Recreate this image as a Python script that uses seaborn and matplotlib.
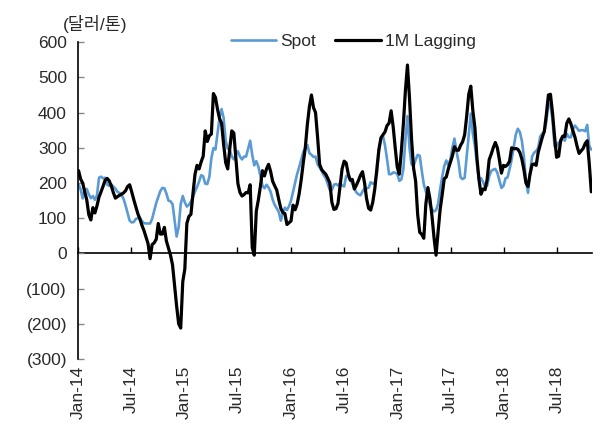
import matplotlib
matplotlib.use("Agg")
import matplotlib.pyplot as plt
import matplotlib.dates as mdates
import pandas as pd
import seaborn as sns

# ---------------- data (weekly) ----------------
start_date = "2014-01-03"

spot = [
    196, 182, 156, 180, 183, 168, 157, 163, 152, 165,
    215, 218, 213, 215, 195, 192, 196, 190, 184, 175,
    172, 167, 155, 136, 114, 93, 88, 89, 98, 100,
    101, 92, 86, 85, 85, 85, 98, 120, 143, 160,
    177, 186, 185, 170, 150, 148, 140, 95, 48, 75,
    140, 163, 145, 133, 138, 147, 160, 176, 189, 204,
    222, 219, 198, 197, 217, 270, 299, 295, 340, 385,
    410, 385, 320, 298, 294, 275, 267, 280, 290, 275,
    267, 275, 275, 297, 320, 280, 250, 262, 247, 220,
    193, 185, 195, 187, 175, 153, 138, 128, 118, 93,
    115, 130, 123, 134, 150, 175, 200, 226, 245, 266,
    288, 298, 308, 285, 280, 274, 275, 253, 244, 234,
    222, 214, 196, 180, 180, 195, 197, 193, 200, 193,
    190, 220, 217, 210, 198, 185, 173, 168, 165, 176,
    185, 184, 187, 202, 198, 201, 225, 290, 324, 334,
    307, 268, 225, 225, 230, 229, 226, 206, 210, 240,
    325, 390, 300, 253, 248, 266, 280, 277, 235, 196,
    176, 162, 138, 125, 119, 123, 141, 182, 217, 248,
    264, 250, 266, 300, 326, 290, 260, 216, 211, 215,
    276, 340, 397, 340, 306, 255, 208, 214, 203, 188,
    192, 219, 234, 238, 240, 229, 208, 186, 192, 213,
    216, 240, 266, 302, 337, 354, 345, 320, 275, 208,
    172, 228, 275, 286, 291, 300, 332, 340, 345, 375,
    426, 420, 380, 304, 305, 315, 315, 330, 320, 340,
    330, 330, 353, 363, 356, 348, 350, 350, 347, 365,
    305, 295,
]

lagging = [
    235, 211, 200, 175, 152, 110, 95, 130, 115, 135,
    160, 175, 191, 208, 213, 206, 192, 173, 157, 161,
    165, 168, 172, 178, 190, 195, 175, 153, 133, 113,
    98, 80, 65, 47, 28, -15, 25, 30, 40, 85,
    55, 55, 74, 35, 15, -5, -33, -90, -150, -200,
    -212, -80, -45, 85, 105, 111, 170, 225, 250, 240,
    260, 276, 348, 318, 334, 339, 454, 443, 410, 383,
    370, 310, 258, 240, 297, 348, 342, 270, 198, 173,
    163, 167, 173, 172, 195, 17, -5, 120, 152, 190,
    235, 220, 240, 253, 233, 205, 192, 180, 153, 128,
    116, 113, 82, 87, 92, 137, 124, 140, 170, 210,
    258, 301, 367, 417, 450, 414, 400, 330, 253, 238,
    231, 225, 213, 200, 145, 125, 127, 142, 190, 240,
    262, 257, 226, 208, 210, 183, 194, 207, 222, 232,
    200, 155, 128, 123, 145, 183, 238, 295, 328, 337,
    345, 363, 370, 405, 360, 300, 245, 225, 290, 368,
    463, 535, 440, 325, 242, 205, 110, 60, 54, 43,
    140, 187, 155, 106, 45, -5, 62, 125, 167, 212,
    217, 240, 258, 277, 303, 293, 293, 307, 317, 337,
    390, 452, 475, 406, 358, 272, 210, 168, 183, 181,
    210, 266, 282, 300, 315, 300, 266, 228, 250, 247,
    252, 262, 300, 297, 298, 296, 287, 268, 238, 200,
    190, 225, 252, 254, 250, 287, 308, 330, 347, 395,
    450, 452, 400, 333, 273, 276, 321, 333, 332, 370,
    382, 368, 348, 330, 305, 284, 291, 298, 312, 320,
    255, 175,
]

tick_dates = ["2014-01-01", "2014-07-01", "2015-01-01", "2015-07-01",
              "2016-01-01", "2016-07-01", "2017-01-01", "2017-07-01",
              "2018-01-01", "2018-07-01"]
tick_labels = ["Jan-14", "Jul-14", "Jan-15", "Jul-15", "Jan-16",
               "Jul-16", "Jan-17", "Jul-17", "Jan-18", "Jul-18"]
y_ticks = [600, 500, 400, 300, 200, 100, 0, -100, -200, -300]
y_labels = ["600", "500", "400", "300", "200", "100", "0",
            "(100)", "(200)", "(300)"]
unit_label = "(달러/톤)"
series_names = ["Spot", "1M Lagging"]

# ---------------- styling ----------------
sns.set_theme(style="white")
plt.rcParams["font.family"] = ["Liberation Sans", "Noto Sans CJK KR", "DejaVu Sans"]

dates = pd.date_range(start_date, periods=len(spot), freq="7D")
df = pd.DataFrame({"date": dates, series_names[0]: spot, series_names[1]: lagging})

fig = plt.figure(figsize=(6, 4.3), dpi=100)
ax = fig.add_axes([0.13, 0.165, 0.856, 0.737])

sns.lineplot(data=df, x="date", y=series_names[0], ax=ax, color="#5B9BD5",
             linewidth=1.9, label=series_names[0])
sns.lineplot(data=df, x="date", y=series_names[1], ax=ax, color="black",
             linewidth=2.3, label=series_names[1])

ax.set_xlim(pd.Timestamp("2014-01-01"), dates[-1] + pd.Timedelta(days=1))
ax.set_ylim(-300, 600)
ax.set_xlabel("")
ax.set_ylabel("")

for s in ["top", "right", "bottom"]:
    ax.spines[s].set_visible(False)
ax.spines["left"].set_color("black")
ax.spines["left"].set_linewidth(1.2)

ax.set_yticks(y_ticks)
ax.set_yticklabels(y_labels)
ax.tick_params(axis="y", direction="in", length=4, width=1, color="#888888",
               pad=8, labelsize=12.5, labelcolor="#2a2a2a", left=True)

tick_pos = pd.to_datetime(tick_dates)
ax.set_xticks(tick_pos)
ax.set_xticklabels(tick_labels, rotation=90)
ax.tick_params(axis="x", length=0, pad=5, labelsize=12.5, labelcolor="#2a2a2a")

# zero axis line with inward ticks
sec = ax.secondary_xaxis(1 / 3)
sec.set_xticks(mdates.date2num(tick_pos))
sec.tick_params(direction="in", length=4, width=1, color="black", labelbottom=False)
sec.spines["bottom"].set_color("black")
sec.spines["bottom"].set_linewidth(1.2)

leg = ax.legend(ncol=2, frameon=False, loc="center",
                bbox_to_anchor=(0.589, 0.903), bbox_transform=fig.transFigure,
                handlelength=2.6, handletextpad=0.25, columnspacing=1.1,
                fontsize=12.5, borderaxespad=0, borderpad=0)
for t in leg.get_texts():
    t.set_color("#2a2a2a")

fig.text(63 / 600, 1 - 24 / 430, unit_label, ha="left", va="center",
         fontsize=12.5, color="#2a2a2a")

fig.savefig("out.png", dpi=100)
